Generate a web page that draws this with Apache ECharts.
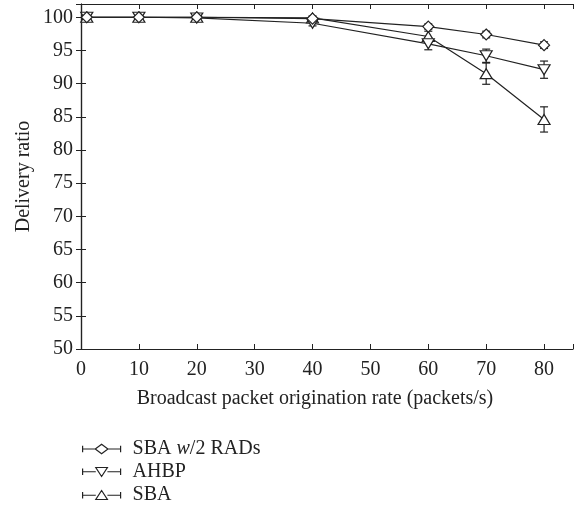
<!DOCTYPE html>
<html>
<head>
<meta charset="utf-8">
<script src="https://cdn.jsdelivr.net/npm/echarts@6/dist/echarts.min.js"></script>
<style>
  html, body { margin: 0; padding: 0; background: #fff; }
  #chart { width: 577px; height: 509px; }
</style>
</head>
<body>
<div id="chart"></div>
<script>
// Broadcast packet origination rate (packets/s)
const rates = [1, 10, 20, 40, 60, 70, 80];

// Delivery ratio (%) and half-width of the error bars
const sbaRadValues = [100, 100, 100, 99.8, 98.6, 97.4, 95.8];
const sbaRadErrors = [0.2, 0.2, 0.2, 0.2, 0.4, 0.5, 0.5];

const ahbpValues = [100, 100, 99.9, 99.1, 96.0, 94.2, 92.1];
const ahbpErrors = [0.2, 0.2, 0.2, 0.4, 0.9, 1.0, 1.3];

const sbaValues = [100, 100, 100, 99.9, 97.1, 91.5, 84.6];
const sbaErrors = [0.2, 0.2, 0.2, 0.3, 0.8, 1.6, 1.9];

const seriesNames = ['SBA w/2 RADs', 'AHBP', 'SBA'];

const INK = '#222';
const FONT = '"Liberation Serif", "DejaVu Serif", serif';
const FS = 20;

function points(values) {
  return rates.map((x, i) => [x, values[i]]);
}
function bars(values, errors) {
  return rates.map((x, i) => [x, values[i] - errors[i], values[i] + errors[i]]);
}

// Vertical error bar with short caps
function renderErrorBar(params, api) {
  const x = api.value(0);
  const lo = api.coord([x, api.value(1)]);
  const hi = api.coord([x, api.value(2)]);
  const cap = 4;
  const style = { stroke: INK, lineWidth: 1.2, fill: null };
  return {
    type: 'group',
    children: [
      { type: 'line', shape: { x1: lo[0], y1: lo[1], x2: hi[0], y2: hi[1] }, style },
      { type: 'line', shape: { x1: lo[0] - cap, y1: lo[1], x2: lo[0] + cap, y2: lo[1] }, style },
      { type: 'line', shape: { x1: hi[0] - cap, y1: hi[1], x2: hi[0] + cap, y2: hi[1] }, style }
    ]
  };
}

// Legend glyphs: capped line with the series marker in the middle
const legendIcons = {
  'SBA w/2 RADs': 'path://M0,5L12,5M24,5L36,5M0,2L0,8M36,2L36,8M12,5L18,0.5L24,5L18,9.5Z',
  'AHBP': 'path://M0,5L12.5,5M23.5,5L36,5M0,2L0,8M36,2L36,8M12.5,1L23.5,1L18,9.5Z',
  'SBA': 'path://M0,5L12.5,5M23.5,5L36,5M0,2L0,8M36,2L36,8M12.5,9L23.5,9L18,0.5Z'
};

function lineSeries(name, values, symbol, rotate, size) {
  return {
    name: name,
    type: 'line',
    data: points(values),
    symbol: symbol,
    symbolRotate: rotate,
    symbolSize: size,
    showAllSymbol: true,
    lineStyle: { color: INK, width: 1.2 },
    itemStyle: { color: '#fff', borderColor: INK, borderWidth: 1.2 },
    emphasis: { disabled: true },
    z: 3
  };
}

function errorSeries(name, values, errors) {
  return {
    name: name,
    type: 'custom',
    renderItem: renderErrorBar,
    data: bars(values, errors),
    encode: { x: 0, y: [1, 2] },
    z: 2,
    silent: true
  };
}

const hideEnds = (step) => (v) => (v % step === 0 ? String(v) : '');

const chart = echarts.init(document.getElementById('chart'), null, { renderer: 'canvas' });

chart.setOption({
  animation: false,
  backgroundColor: '#fff',
  textStyle: { fontFamily: FONT, color: INK },
  grid: { left: 81, right: 4, top: 4, bottom: 160 },
  legend: {
    orient: 'vertical',
    left: 77,
    top: 434,
    height: 80,
    itemWidth: 38,
    itemHeight: 11,
    itemGap: 3,
    selectedMode: false,
    data: seriesNames.map((n) => ({ name: n, icon: legendIcons[n] })),
    itemStyle: { color: '#fff', borderColor: INK, borderWidth: 1.2 },
    formatter: (n) => (n === 'SBA w/2 RADs' ? '{t|SBA }{i|w}{t|/2 RADs}' : '{t|' + n + '}'),
    textStyle: {
      fontFamily: FONT,
      fontSize: FS,
      lineHeight: 20,
      color: INK,
      padding: [0, 0, 0, 7],
      rich: {
        t: { fontFamily: FONT, fontSize: FS, lineHeight: 20, color: INK },
        i: { fontFamily: FONT, fontSize: FS, lineHeight: 20, color: INK, fontStyle: 'italic' }
      }
    }
  },
  xAxis: [
    {
      type: 'value',
      position: 'bottom',
      min: 0,
      max: 85,
      interval: 10,
      name: 'Broadcast packet origination rate (packets/s)',
      nameLocation: 'middle',
      nameGap: 40,
      nameTextStyle: { fontFamily: FONT, fontSize: FS, color: INK, padding: [0, 24, 0, 0] },
      axisLine: { lineStyle: { color: INK, width: 1.2 } },
      axisTick: { inside: true, length: 5, lineStyle: { color: INK } },
      axisLabel: { fontFamily: FONT, fontSize: FS, color: INK, margin: 11, formatter: hideEnds(10) },
      splitLine: { show: false }
    },
    {
      type: 'value',
      position: 'top',
      min: 0,
      max: 85,
      interval: 10,
      axisLine: { lineStyle: { color: INK, width: 1.2 } },
      axisTick: { inside: true, length: 5, lineStyle: { color: INK } },
      axisLabel: { show: false },
      splitLine: { show: false }
    }
  ],
  yAxis: [
    {
      type: 'value',
      position: 'left',
      min: 50,
      max: 102,
      interval: 5,
      name: 'Delivery ratio',
      nameLocation: 'middle',
      nameGap: 47,
      nameMoveOverlap: false,
      nameTextStyle: { fontFamily: FONT, fontSize: FS, color: INK },
      axisLine: { show: true, lineStyle: { color: INK, width: 1.2 } },
      axisTick: { show: true, inside: true, length: 5, lineStyle: { color: INK } },
      axisLabel: { fontFamily: FONT, fontSize: FS, color: INK, margin: 8, formatter: hideEnds(5) },
      splitLine: { show: false }
    },
    {
      type: 'value',
      position: 'right',
      min: 50,
      max: 102,
      interval: 5,
      axisLine: { show: true, lineStyle: { color: INK, width: 1.2 } },
      axisTick: { show: true, inside: true, length: 5, lineStyle: { color: INK } },
      axisLabel: { show: false },
      splitLine: { show: false }
    }
  ],
  series: [
    errorSeries('SBA', sbaValues, sbaErrors),
    errorSeries('AHBP', ahbpValues, ahbpErrors),
    errorSeries('SBA w/2 RADs', sbaRadValues, sbaRadErrors),
    lineSeries('SBA', sbaValues, 'triangle', 0, [12, 10]),
    lineSeries('AHBP', ahbpValues, 'triangle', 180, [12, 10]),
    lineSeries('SBA w/2 RADs', sbaRadValues, 'diamond', 0, [11, 11])
  ]
});
</script>
</body>
</html>
